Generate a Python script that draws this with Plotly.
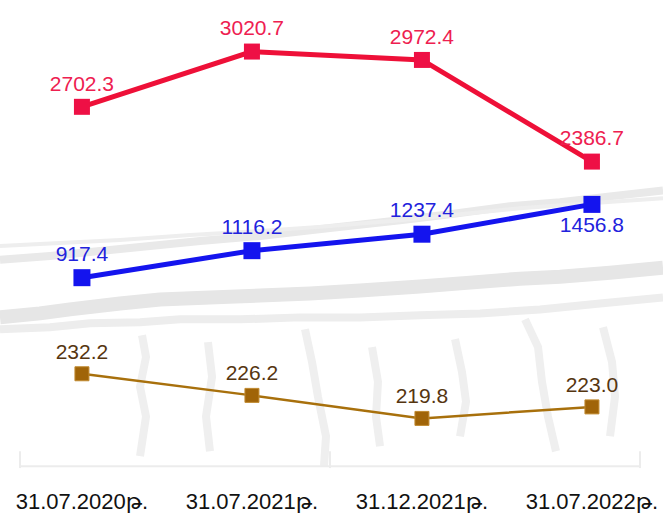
import plotly.graph_objects as go

categories = ["31.07.2020թ.", "31.07.2021թ.", "31.12.2021թ.", "31.07.2022թ."]
red_values = [2702.3, 3020.7, 2972.4, 2386.7]
blue_values = [917.4, 1116.2, 1237.4, 1456.8]
brown_values = [232.2, 226.2, 219.8, 223.0]

FONT = "Liberation Sans, Arial, DejaVu Sans, sans-serif"
xi = list(range(len(categories)))

W, H_PLOT = 663, 484


def pth(points):
    # points in pixel coords -> paper coords path
    segs = []
    for i, (px, py) in enumerate(points):
        segs.append(("M" if i == 0 else "L") + f"{px / W:.4f},{1 - py / H_PLOT:.4f}")
    return " ".join(segs)


fig = go.Figure()

# faint grey background sketch (decorative)
bg_shapes = []
streaks = [
    ([(0, 262), (50, 258), (90, 254), (150, 248), (200, 243), (260, 238), (330, 230),
      (400, 222), (450, 216), (510, 208), (560, 204), (610, 198), (663, 192)], 8, "#e9e9e9"),
    ([(0, 248), (60, 245), (120, 242), (190, 237), (260, 233), (330, 228), (400, 222),
      (460, 216), (520, 210), (590, 205), (663, 200)], 4, "#eeeeee"),
    ([(0, 320), (40, 316), (70, 312), (120, 306), (160, 302), (210, 300), (260, 298),
      (310, 296), (360, 293), (420, 289), (470, 285), (520, 281), (560, 279), (610, 275), (663, 270)],
     14, "#e6e6e6"),
    ([(0, 332), (50, 330), (90, 326), (140, 325), (180, 322), (240, 322), (300, 320),
      (360, 320), (420, 318), (480, 316), (540, 312), (600, 306), (663, 300)], 8, "#ededed"),
]
for pts, w, c in streaks:
    bg_shapes.append(dict(type="path", xref="paper", yref="paper", path=pth(pts),
                          line=dict(color=c, width=w), layer="below"))
verticals = [
    [(142, 338), (146, 360), (140, 390), (146, 420), (140, 460)],
    [(208, 345), (212, 380), (206, 420), (210, 455)],
    [(305, 332), (312, 365), (318, 400), (326, 440), (324, 470)],
    [(372, 350), (378, 385), (376, 420), (380, 450)],
    [(455, 342), (462, 375), (466, 405), (460, 440)],
    [(525, 322), (538, 350), (542, 385), (548, 420), (556, 455)],
    [(603, 330), (612, 365), (615, 400), (610, 440)],
]
for pts in verticals:
    bg_shapes.append(dict(type="path", xref="paper", yref="paper", path=pth(pts),
                          line=dict(color="#efefef", width=8), layer="below"))
bg_shapes.append(dict(type="path", xref="paper", yref="paper",
                      path=pth([(20, 470), (640, 470)]),
                      line=dict(color="#ececec", width=2), layer="below"))
for vx in (20, 330, 640):
    bg_shapes.append(dict(type="path", xref="paper", yref="paper",
                          path=pth([(vx, 455), (vx, 472)]),
                          line=dict(color="#ececec", width=2), layer="below"))

fig.add_trace(go.Scatter(
    x=xi, y=red_values, yaxis="y", mode="lines+markers+text",
    line=dict(color="#EE1038", width=5),
    marker=dict(symbol="square", size=16, color="#EE1045"),
    text=[f"{v:.1f}" for v in red_values], textposition="top center",
    textfont=dict(family=FONT, size=21, color="#EE2050"),
    cliponaxis=False, showlegend=False))
fig.add_trace(go.Scatter(
    x=xi, y=blue_values, yaxis="y2", mode="lines+markers+text",
    line=dict(color="#1414EE", width=5),
    marker=dict(symbol="square", size=17, color="#1414EE"),
    text=[f"{v:.1f}" for v in blue_values],
    textposition=["top center", "top center", "top center", "bottom center"],
    textfont=dict(family=FONT, size=21, color="#2222DD"),
    cliponaxis=False, showlegend=False))
fig.add_trace(go.Scatter(
    x=xi, y=brown_values, yaxis="y3", mode="lines+markers+text",
    line=dict(color="#A8700C", width=2.5),
    marker=dict(symbol="square", size=14, color="#A06408",
                line=dict(color="#C08A30", width=1)),
    text=[f"{v:.1f}" for v in brown_values], textposition="top center",
    textfont=dict(family=FONT, size=21, color="#553510"),
    cliponaxis=False, showlegend=False))

hidden = dict(visible=False, fixedrange=True)
fig.update_layout(
    width=W, height=514,
    margin=dict(l=0, r=0, t=0, b=514 - H_PLOT),
    paper_bgcolor="white", plot_bgcolor="rgba(0,0,0,0)",
    font=dict(family=FONT),
    shapes=bg_shapes,
    xaxis=dict(tickmode="array", tickvals=xi, ticktext=categories,
               range=[-0.482, 3.418], showgrid=False, zeroline=False,
               showline=False, ticks="outside", ticklen=2, tickcolor="rgba(0,0,0,0)",
               tickfont=dict(family=FONT, size=22, color="#111111")),
    yaxis=dict(range=[552, 3317.8], **hidden),
    yaxis2=dict(range=[-571.6, 2961.0], overlaying="y", **hidden),
    yaxis3=dict(range=[202.7, 336.0], overlaying="y", **hidden),
)
fig.write_html("out.html", config={"displayModeBar": False},
               post_script="document.body.style.margin='0';document.body.style.overflow='hidden';")
